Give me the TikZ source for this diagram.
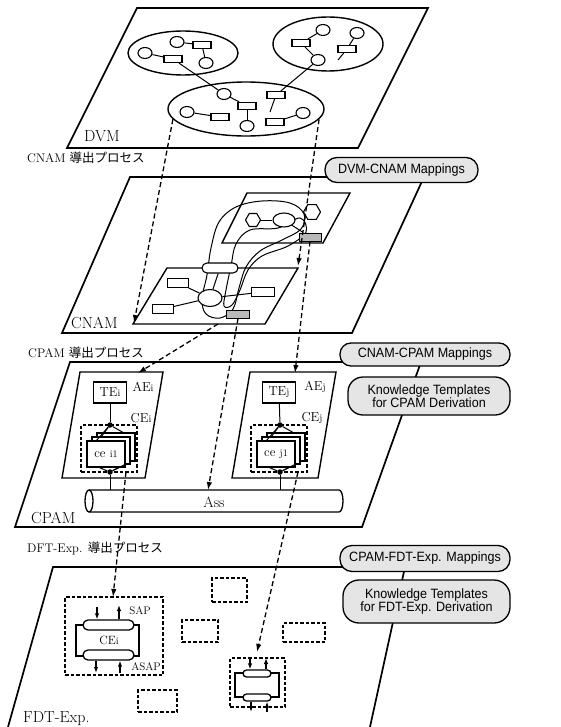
\documentclass[tikz,border=0pt]{standalone}
\usepackage{fontspec}
\newfontfamily\cjk{Noto Sans CJK JP}
\newfontfamily\lsans[FakeStretch=0.93]{Liberation Sans}
\usetikzlibrary{shapes.geometric,shapes.misc,arrows.meta}
\newcommand{\smi}[1]{{\fontsize{10}{10}\selectfont #1}}
\begin{document}
\begin{tikzpicture}[x=1pt,y=-1pt,
  layer/.style={line width=1.7pt, line join=miter},
  inner/.style={line width=1.4pt, line join=miter},
  lnk/.style={line width=1pt},
  dvmc/.style={draw, line width=1.1pt, ellipse, minimum width=14pt, minimum height=11pt, inner sep=0pt, fill=white},
  dvmr/.style={draw, line width=1.1pt, rectangle, minimum width=18pt, minimum height=7pt, inner sep=0pt, fill=white},
  bigell/.style={draw, line width=1.4pt, ellipse, inner sep=0pt},
  hatchbox/.style={draw, line width=1pt, fill=gray!55, minimum width=22pt, minimum height=8pt, inner sep=0pt},
  hexa/.style={draw, line width=1.1pt, regular polygon, regular polygon sides=6, minimum size=16pt, inner sep=0pt, fill=white},
  plainbox/.style={draw, line width=1.1pt, rectangle, inner sep=0pt, fill=white},
  pill/.style={draw, line width=1.1pt, rounded rectangle, inner sep=0pt, fill=white},
  dasharrow/.style={line width=1.3pt, dash pattern=on 5pt off 3pt, -{Latex[length=8pt,width=5.5pt]}},
  dashbox/.style={draw, line width=1.2pt, dash pattern=on 3.5pt off 2pt, rectangle, inner sep=0pt},
  maplbl/.style={draw, line width=1.3pt, fill=gray!20, font=\lsans\fontsize{13.5}{13.5}\selectfont, align=center, inner sep=0pt},
  layerlbl/.style={font=\fontsize{16}{16}\selectfont, anchor=base west, inner sep=0pt},
  proclbl/.style={font=\fontsize{12.5}{12.5}\selectfont, anchor=base west, inner sep=0pt},
  elbl/.style={font=\fontsize{13}{13}\selectfont, inner sep=0pt},
  cebox/.style={draw, line width=1.2pt, rectangle, inner sep=0pt, fill=white},
  bigdot/.style={circle, fill=black, inner sep=0pt, minimum size=5.5pt},
  smallarrow/.style={line width=1.2pt, -{Latex[length=6pt,width=4.5pt]}},
  fdtpill/.style={draw, line width=1.3pt, rounded rectangle, inner sep=0pt, fill=white},
]
\useasboundingbox (0,0) rectangle (561,727);

%================ DVM layer
\draw[layer] (137,8) -- (428,8) -- (358,148) -- (67,148) -- cycle;
\node[layerlbl] (dvmlbl) at (84,142) {DVM};
\node[bigell, minimum width=110pt, minimum height=44pt] (ea) at (183,53) {};
\node[bigell, minimum width=110pt, minimum height=54pt] (eb) at (328,44) {};
\node[bigell, minimum width=156pt, minimum height=54pt] (ec) at (246,109) {};
% circles
\node[dvmc] (c1) at (145,53) {};
\node[dvmc] (c2) at (177,42) {};
\node[dvmc] (c3) at (206,63) {};
\node[dvmc] (c4) at (323,30) {};
\node[dvmc] (c5) at (318,60) {};
\node[dvmc] (c6) at (357,33) {};
\node[dvmc] (c7) at (224,94) {};
\node[dvmc] (c8) at (187,112) {};
\node[dvmc] (c9) at (247,126) {};
\node[dvmc] (c10) at (303,113) {};
% rects
\node[dvmr] (r1) at (173,59) {};
\node[dvmr] (r2) at (202,45) {};
\node[dvmr] (r3) at (301,43) {};
\node[dvmr] (r4) at (347,49) {};
\node[dvmr] (r5) at (247,106) {};
\node[dvmr] (r6) at (220,117) {};
\node[dvmr] (r7) at (276,95) {};
\node[dvmr] (r8) at (275,122) {};
\coordinate (d1) at (338,60);
\coordinate (d2) at (270,112);
\draw[lnk] (c1) -- (r1);
\draw[lnk] (c2) -- (r2);
\draw[lnk] (r2) -- (c3);
\draw[lnk] (r1) -- (c7);
\draw[lnk] (c4) -- (r3);
\draw[lnk] (r3) -- (c5);
\draw[lnk] (c6) -- (r4);
\draw[lnk] (r4) -- (d1);
\draw[lnk] (c5) -- (r7);
\draw[lnk] (c7) -- (r5);
\draw[lnk] (r5) -- (c9);
\draw[lnk] (c8) -- (r6);
\draw[lnk] (r7) -- (d2);
\draw[lnk] (r8) -- (c10);

\node[proclbl] (p1) at (27,163) {CNAM {\cjk 導出プロセス}};

%================ CNAM layer
\draw[layer] (130,177) -- (424,177) -- (352,333) -- (62,333) -- cycle;
\node[layerlbl] (cnamlbl) at (71,328) {CNAM};
\draw[inner] (247,193) -- (350,193) -- (323,243) -- (222,243) -- cycle;
\draw[inner] (167,268) -- (298,268) -- (265,324) -- (133,324) -- cycle;
% loops
\draw[lnk] plot[smooth cycle, tension=0.6] coordinates {(304,214) (290,203) (262,201) (236,207) (219,222) (211,248) (207,275) (202,299) (206,314) (220,318) (233,309) (239,288) (246,267) (260,251) (282,240) (301,229)};
\draw[lnk] plot[smooth cycle, tension=0.6] coordinates {(300,218) (278,228) (250,230) (236,244) (231,266) (226,290) (224,306) (232,305) (240,290) (248,270) (262,256) (288,246) (306,232)};
\node[hexa, minimum size=15pt] (hx1) at (253,220) {};
\node[draw, line width=1.1pt, ellipse, minimum width=22pt, minimum height=14pt, inner sep=0pt, fill=white] (e1) at (284,220) {};
\node[hexa, minimum size=17pt] (hx2) at (312,212) {};
\node[hatchbox] (h1) at (310,237) {};
\node[pill, minimum width=36pt, minimum height=10pt] (pl) at (220,268) {};
\node[plainbox, minimum width=21pt, minimum height=9pt] (q1) at (178,283) {};
\node[plainbox, minimum width=23pt, minimum height=9pt] (q2) at (263,292) {};
\node[plainbox, minimum width=21pt, minimum height=9pt] (q3) at (163,309) {};
\node[draw, line width=1.1pt, ellipse, minimum width=24pt, minimum height=17pt, inner sep=0pt, fill=white] (e2) at (210,298) {};
\node[hatchbox, minimum width=23pt] (h2) at (238,314) {};
\draw[lnk] (hx1) -- (e1);
\draw[lnk] (e1) -- (h1);
\draw[lnk] (q1) -- (e2);
\draw[lnk] (q3) -- (e2);
\draw[lnk] (e2) -- (q2);
\draw[lnk] (pl) -- (e2);

\node[proclbl] (p2) at (28,357) {CPAM {\cjk 導出プロセス}};

%================ CPAM layer
\draw[layer] (70,362) -- (421,362) -- (362,527) -- (15,527) -- cycle;
\node[layerlbl] (cpamlbl) at (31,523) {CPAM};
% AEi
\draw[inner] (80,372) -- (163,372) -- (145,478) -- (62,478) -- cycle;
\node[cebox, minimum width=33pt, minimum height=21pt, elbl] (tei) at (110,392.5) {TE\smi{i}};
\node[elbl] (aei) at (143,387) {AE\smi{i}};
\node[elbl] (ceil) at (141,418) {CE\smi{i}};
\node[dashbox, minimum width=56pt, minimum height=47pt] (cei) at (109,448.5) {};
\node[cebox, minimum width=38pt, minimum height=28pt] (ceib) at (116,447) {};
\node[cebox, minimum width=38pt, minimum height=27pt] (ceim) at (111,450.5) {};
\node[cebox, minimum width=38pt, minimum height=26pt, elbl] (ceif) at (106,454) {ce \smi{i1}};
\node[bigdot] (ti) at (110,425) {};
\node[bigdot] (bi) at (110,472) {};
\draw[lnk] (tei) -- (ti);
\draw[lnk] (ti) -- (96,441);
\draw[lnk] (ti) -- (101,437);
\draw[lnk] (ti) -- (124,433);
\draw[lnk] (98,467) -- (bi);
\draw[lnk] (120,467) -- (bi);
\draw[lnk] (126,464) -- (bi);
% AEj
\draw[inner] (250,372) -- (336,372) -- (318,478) -- (232,478) -- cycle;
\node[cebox, minimum width=33pt, minimum height=21pt, elbl] (tej) at (279,392.5) {TE\smi{j}};
\node[elbl] (aej) at (315,387) {AE\smi{j}};
\node[elbl] (cejl) at (312,418) {CE\smi{j}};
\node[dashbox, minimum width=56pt, minimum height=47pt] (cej) at (279,448.5) {};
\node[cebox, minimum width=38pt, minimum height=28pt] (cejb) at (286,447) {};
\node[cebox, minimum width=38pt, minimum height=27pt] (cejm) at (281,450.5) {};
\node[cebox, minimum width=38pt, minimum height=26pt, elbl] (cejf) at (276,454) {ce \smi{j1}};
\node[bigdot] (tj) at (280,425) {};
\node[bigdot] (bj) at (280,472) {};
\draw[lnk] (tej) -- (tj);
\draw[lnk] (tj) -- (266,441);
\draw[lnk] (tj) -- (271,437);
\draw[lnk] (tj) -- (294,433);
\draw[lnk] (268,467) -- (bj);
\draw[lnk] (290,467) -- (bj);
\draw[lnk] (296,464) -- (bj);
% Ass cylinder
\draw[line width=1.3pt, fill=white] (89,490) -- (339,490) arc[start angle=90, end angle=-90, x radius=4pt, y radius=11pt] -- (89,512) arc[start angle=270, end angle=90, x radius=4pt, y radius=11pt] -- cycle;
\draw[line width=1.3pt] (89,490) arc[start angle=90, end angle=-90, x radius=4pt, y radius=11pt];
\node[font=\fontsize{15}{15}\selectfont, inner sep=0pt] (ass) at (214,502) {Ass};
\coordinate (assi) at (110,490);
\coordinate (assj) at (280,490);
\draw[lnk] (bi) -- (assi);
\draw[lnk] (bj) -- (assj);

\node[proclbl] (p3) at (27,552) {DFT-Exp. {\cjk 導出プロセス}};

%================ FDT layer
\draw[layer] (8,727) -- (53,567) -- (405,567) -- (370,727);
\node[layerlbl] (fdtlbl) at (23,722) {FDT-Exp.};
% CEi block
\node[dashbox, minimum width=98pt, minimum height=78pt] (fcei) at (114,636) {};
\draw[line width=1.8pt] (76,625) rectangle (139,656);
\node[fdtpill, minimum width=51pt, minimum height=10pt] (fup) at (108.5,625) {};
\node[fdtpill, minimum width=51pt, minimum height=10pt] (flo) at (108.5,655) {};
\node[font=\fontsize{12}{12}\selectfont, inner sep=0pt] (fcel) at (109,640) {CE\smi{i}};
\coordinate (a1s) at (97,607);
\coordinate (a2e) at (119,605);
\coordinate (a3e) at (96,673);
\coordinate (a4s) at (120,673);
\draw[smallarrow] (a1s) -- (fup.north -| a1s);
\draw[smallarrow] (fup.north -| a2e) -- (a2e);
\draw[smallarrow] (flo.south -| a3e) -- (a3e);
\draw[smallarrow] (a4s) -- (flo.south -| a4s);
\node[font=\fontsize{11}{11}\selectfont, inner sep=0pt] (sap) at (140,611) {SAP};
\node[font=\fontsize{11}{11}\selectfont, inner sep=0pt] (asap) at (146,667) {ASAP};
% empty boxes
\node[dashbox, minimum width=35pt, minimum height=24pt] (eb1) at (229.5,590) {};
\node[dashbox, minimum width=36pt, minimum height=22pt] (eb2) at (200,631) {};
\node[dashbox, minimum width=42pt, minimum height=19pt] (eb3) at (304,632.5) {};
\node[dashbox, minimum width=39pt, minimum height=22pt] (eb4) at (157.5,701) {};
% small block
\node[dashbox, minimum width=55pt, minimum height=49pt] (sblk) at (257.5,682.5) {};
\draw[line width=1.8pt] (235,673) rectangle (279,697);
\node[fdtpill, minimum width=28pt, minimum height=7pt] (sup) at (257,673.5) {};
\node[fdtpill, minimum width=28pt, minimum height=7pt] (slo) at (257,697.5) {};
\coordinate (b1s) at (250,658);
\coordinate (b2e) at (266,658);
\coordinate (b3e) at (251,712);
\coordinate (b4s) at (267,712);
\draw[smallarrow] (b1s) -- (sup.north -| b1s);
\draw[smallarrow] (sup.north -| b2e) -- (b2e);
\draw[smallarrow] (slo.south -| b3e) -- (b3e);
\draw[smallarrow] (b4s) -- (slo.south -| b4s);

%================ dashed mapping arrows
\coordinate (t1) at (134,323);
\coordinate (t2) at (298,266);
\coordinate (t3) at (295,373);
\coordinate (t4) at (208,490);
\coordinate (s5) at (218,324);
\coordinate (t5) at (138,373);
\coordinate (s6) at (126,472);
\coordinate (t6) at (113,597);
\coordinate (s7) at (298,472);
\coordinate (t7) at (257,652);
\draw[dasharrow] (ec.188) -- (t1);
\draw[dasharrow] (ec.352) -- (t2);
\draw[dasharrow] (h1.south) -- (t3);
\draw[dasharrow] (h2.south) -- (t4);
\draw[dasharrow] (s5) -- (t5);
\draw[dasharrow] (s6) -- (t6);
\draw[dasharrow] (s7) -- (t7);

%================ mapping labels
\node[maplbl, rounded corners=12pt, minimum width=153pt, minimum height=25pt] (m1) at (401.5,170) {DVM-CNAM Mappings};
\node[maplbl, rounded corners=11pt, minimum width=170pt, minimum height=23pt] (m2) at (425,354.5) {CNAM-CPAM Mappings};
\node[maplbl, rounded corners=15pt, minimum width=162pt, minimum height=38pt] (k1) at (429,396) {Knowledge Templates\\for CPAM Derivation};
\node[maplbl, rounded corners=12pt, minimum width=170pt, minimum height=26pt] (m3) at (425,558.5) {CPAM-FDT-Exp. Mappings};
\node[maplbl, rounded corners=16pt, minimum width=167pt, minimum height=43pt] (k2) at (426.5,601.5) {Knowledge Templates\\for FDT-Exp. Derivation};
\end{tikzpicture}
\end{document}
